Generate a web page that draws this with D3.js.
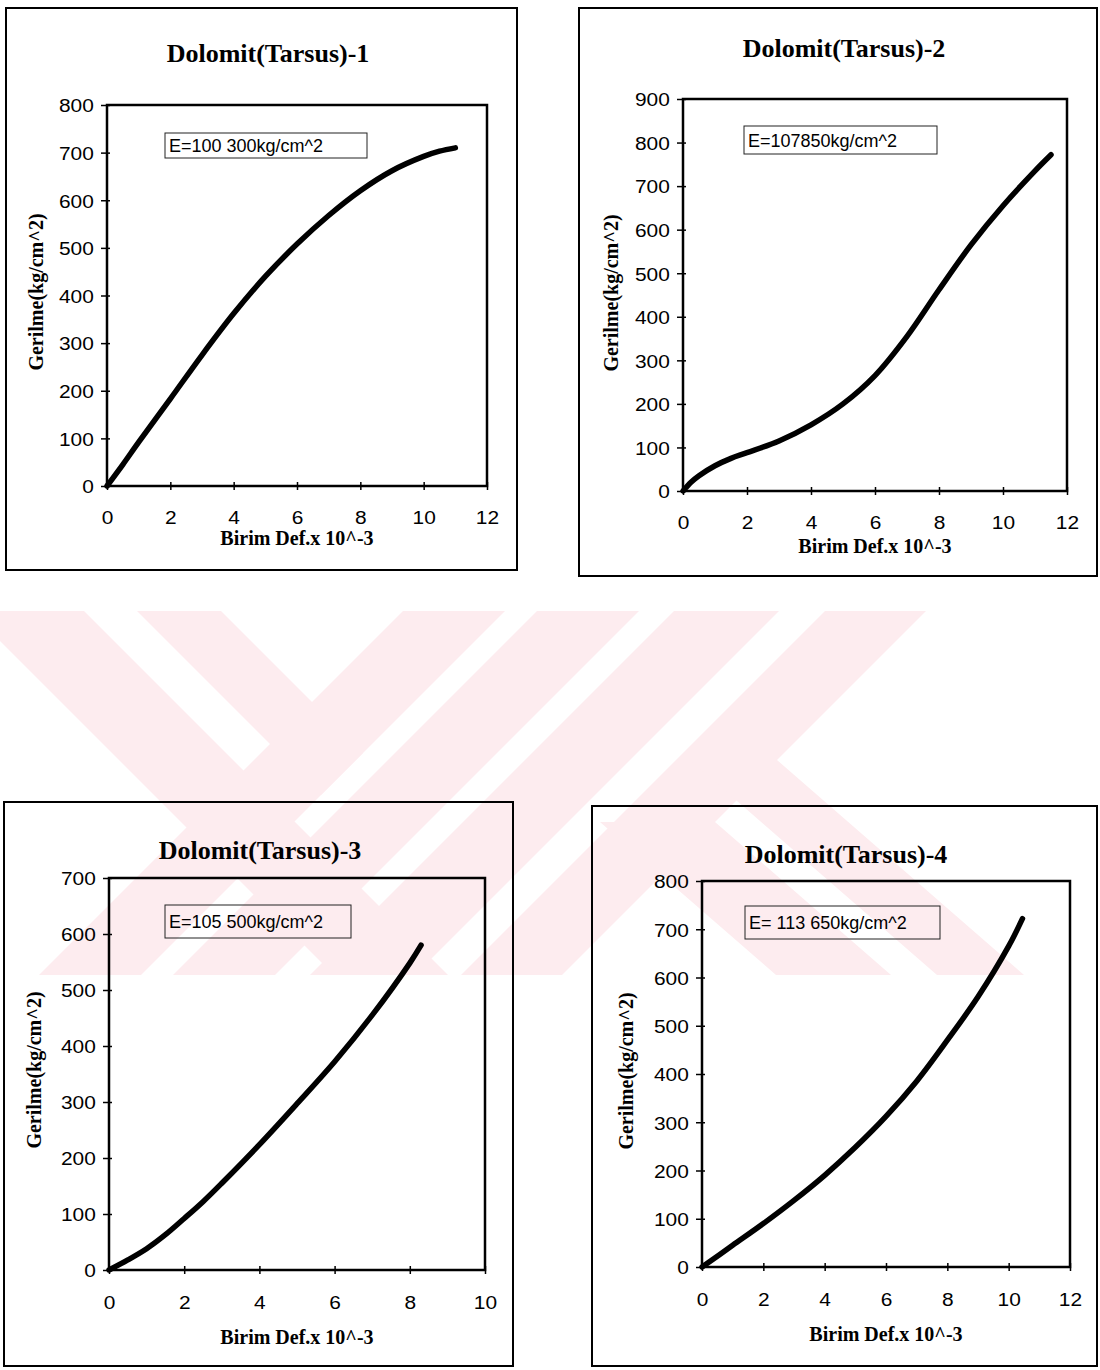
<!DOCTYPE html>
<html><head><meta charset="utf-8">
<script src="https://cdn.jsdelivr.net/npm/d3@7"></script>
<style>body{margin:0;background:#fff}svg{display:block}</style>
</head><body>
<svg id="c" width="1100" height="1370"></svg>
<script>
// ---------------- DATA ----------------
const titles = ["Dolomit(Tarsus)-1", "Dolomit(Tarsus)-2", "Dolomit(Tarsus)-3", "Dolomit(Tarsus)-4"];
const moduli = ["E=100 300kg/cm^2", "E=107850kg/cm^2", "E=105 500kg/cm^2", "E= 113 650kg/cm^2"];
const xAxisTitle = "Birim Def.x 10^-3";
const yAxisTitle = "Gerilme(kg/cm^2)";

const strain1 = [0, 0.5, 1, 2, 3, 4, 5, 6, 7, 8, 9, 10, 10.5, 11];
const stress1 = [0, 45, 92, 183, 275, 362, 440, 508, 568, 620, 662, 692, 703, 710];

const strain2 = [0, 0.25, 0.5, 1, 1.5, 2, 3, 4, 5, 6, 7, 8, 9, 10, 11, 11.5];
const stress2 = [0, 20, 35, 58, 75, 88, 115, 152, 200, 265, 355, 462, 565, 655, 735, 772];

const strain3 = [0, 0.5, 1, 1.5, 2, 2.5, 3, 4, 5, 6, 7, 8, 8.3];
const stress3 = [0, 18, 38, 63, 92, 122, 155, 224, 297, 372, 455, 548, 580];

const strain4 = [0, 1, 2, 3, 4, 5, 6, 7, 8, 9, 10, 10.45];
const stress4 = [0, 45, 90, 138, 190, 248, 312, 385, 470, 560, 665, 722];

const xTicks12 = [0, 2, 4, 6, 8, 10, 12];
const xTicks10 = [0, 2, 4, 6, 8, 10];
const yTicks800 = [0, 100, 200, 300, 400, 500, 600, 700, 800];
const yTicks900 = [0, 100, 200, 300, 400, 500, 600, 700, 800, 900];
const yTicks700 = [0, 100, 200, 300, 400, 500, 600, 700];

const series = [
  {x: strain1, y: stress1, xt: xTicks12, yt: yTicks800},
  {x: strain2, y: stress2, xt: xTicks12, yt: yTicks900},
  {x: strain3, y: stress3, xt: xTicks10, yt: yTicks700},
  {x: strain4, y: stress4, xt: xTicks12, yt: yTicks800}
];

// ---------------- LAYOUT ----------------
const layout = [
  {box:[6,8,517,570],   plot:[107,487,486,105],  title:[268,62],  mod:[165,133,367,158], xt:[297,545], yt:[43,292],  xlab:38},
  {box:[579,8,1097,576],plot:[683,1067,491,99],  title:[844,57],  mod:[744,126,937,154], xt:[875,553], yt:[618,293], xlab:38},
  {box:[4,802,513,1366],plot:[109,485,1270,878], title:[260,859], mod:[165,905,351,938], xt:[297,1344],yt:[41,1070], xlab:39},
  {box:[592,806,1097,1366],plot:[702,1070,1267,881],title:[846,863],mod:[745,906,940,939],xt:[886,1341],yt:[633,1071],xlab:39}
];

const svg = d3.select("#c");
svg.append("rect").attr("width",1100).attr("height",1370).attr("fill","#fff");

// ---------------- WATERMARK (decorative) ----------------
const wm = [
  [[-30,611],[84,611],[448,975],[334,975]],
  [[137,611],[221,611],[363,753],[321,795]],
  [[403,611],[505,611],[141,975],[39,975]],
  [[537,611],[639,611],[275,975],[173,975]],
  [[674,611],[779,611],[415,975],[310,975]],
  [[825,611],[926,611],[562,975],[461,975]],
  [[690,760],[777,760],[1024,975],[937,975]],
  [[600,822],[715,822],[891,975],[776,975]]
];
svg.append("clipPath").attr("id","wmclip").append("rect")
  .attr("x",0).attr("y",611).attr("width",1100).attr("height",364);
svg.append("g").attr("clip-path","url(#wmclip)")
  .selectAll("polygon").data(wm).join("polygon")
  .attr("points", d => d.map(p => p.join(",")).join(" "))
  .attr("fill","#fdecef");

// ---------------- PANELS ----------------
const serif = "'Liberation Serif','Times New Roman',serif";
const sans = "'Liberation Sans',Arial,sans-serif";

series.forEach((s, i) => {
  const L = layout[i];
  const g = svg.append("g");
  g.append("rect").attr("x",L.box[0]).attr("y",L.box[1])
    .attr("width",L.box[2]-L.box[0]).attr("height",L.box[3]-L.box[1])
    .attr("fill","none").attr("stroke","#000").attr("stroke-width",2);

  const x = d3.scaleLinear().domain([s.xt[0], s.xt[s.xt.length-1]]).range([L.plot[0], L.plot[1]]);
  const y = d3.scaleLinear().domain([s.yt[0], s.yt[s.yt.length-1]]).range([L.plot[2], L.plot[3]]);

  const ax = g.append("g").attr("transform",`translate(0,${L.plot[2]})`)
    .call(d3.axisBottom(x).tickValues(s.xt).tickSize(0).tickPadding(0));
  ax.select(".domain").remove();
  ax.selectAll(".tick line").attr("y1",-4).attr("y2",4).attr("stroke","#000").attr("stroke-width",1.5);
  ax.selectAll(".tick text").attr("y",L.xlab).attr("dy",0)
    .attr("font-family",sans).attr("font-size",19).attr("fill","#000")
    .attr("transform","scale(1.1,1)");

  const ay = g.append("g").attr("transform",`translate(${L.plot[0]},0)`)
    .call(d3.axisLeft(y).tickValues(s.yt).tickSize(0).tickPadding(0));
  ay.select(".domain").remove();
  ay.selectAll(".tick line").attr("x1",-6).attr("x2",3).attr("stroke","#000").attr("stroke-width",1.5);
  ay.selectAll(".tick text").attr("x",-12).attr("dy","0.36em")
    .attr("font-family",sans).attr("font-size",19).attr("fill","#000")
    .attr("transform","scale(1.1,1)");

  g.append("rect").attr("x",L.plot[0]).attr("y",L.plot[3])
    .attr("width",L.plot[1]-L.plot[0]).attr("height",L.plot[2]-L.plot[3])
    .attr("fill","none").attr("stroke","#000").attr("stroke-width",2.5);

  const pts = s.x.map((v,k) => [v, s.y[k]]);
  g.append("path").datum(pts)
    .attr("d", d3.line().x(d => x(d[0])).y(d => y(d[1])).curve(d3.curveCatmullRom.alpha(0.5)))
    .attr("fill","none").attr("stroke","#000").attr("stroke-width",5.5)
    .attr("stroke-linecap","round").attr("stroke-linejoin","round");

  g.append("rect").attr("x",L.mod[0]).attr("y",L.mod[1])
    .attr("width",L.mod[2]-L.mod[0]).attr("height",L.mod[3]-L.mod[1])
    .attr("fill","none").attr("stroke","#222").attr("stroke-width",1);
  g.append("text").attr("x",L.mod[0]+4).attr("y",(L.mod[1]+L.mod[3])/2+6.5)
    .attr("font-family",sans).attr("font-size",18).attr("fill","#000")
    .text(moduli[i]);

  g.append("text").attr("x",L.title[0]).attr("y",L.title[1])
    .attr("text-anchor","middle").attr("font-family",serif).attr("font-weight","bold")
    .attr("font-size",26).attr("fill","#000").text(titles[i]);

  g.append("text").attr("x",L.xt[0]).attr("y",L.xt[1])
    .attr("text-anchor","middle").attr("font-family",serif).attr("font-weight","bold")
    .attr("font-size",20).attr("fill","#000").text(xAxisTitle);

  g.append("text").attr("transform",`translate(${L.yt[0]},${L.yt[1]}) rotate(-90)`)
    .attr("text-anchor","middle").attr("font-family",serif).attr("font-weight","bold")
    .attr("font-size",20).attr("fill","#000").text(yAxisTitle);
});
</script>
</body></html>
